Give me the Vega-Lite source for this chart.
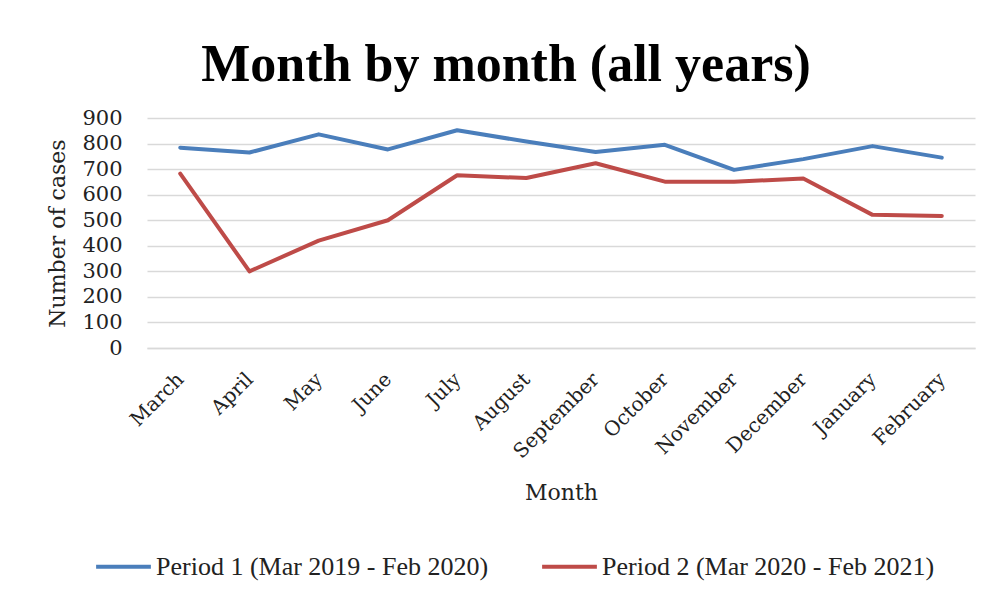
{
  "$schema": "https://vega.github.io/schema/vega-lite/v6.json",
  "autosize": {"type": "none"},
  "width": 828,
  "height": 230,
  "padding": {"left": 147, "top": 118, "right": 19, "bottom": 254},
  "background": "white",
  "title": {
    "text": "Month by month (all years)",
    "font": "Liberation Serif",
    "fontSize": 52,
    "fontWeight": "bold",
    "color": "#000000",
    "anchor": "middle",
    "frame": "group",
    "dx": -55,
    "dy": 63,
    "baseline": "bottom",
    "offset": 26
  },
  "data": {
    "values": [
      {"month": "March", "period": "Period 1 (Mar 2019 - Feb 2020)", "cases": 784},
      {"month": "April", "period": "Period 1 (Mar 2019 - Feb 2020)", "cases": 765},
      {"month": "May", "period": "Period 1 (Mar 2019 - Feb 2020)", "cases": 836},
      {"month": "June", "period": "Period 1 (Mar 2019 - Feb 2020)", "cases": 777},
      {"month": "July", "period": "Period 1 (Mar 2019 - Feb 2020)", "cases": 852},
      {"month": "August", "period": "Period 1 (Mar 2019 - Feb 2020)", "cases": 808},
      {"month": "September", "period": "Period 1 (Mar 2019 - Feb 2020)", "cases": 767},
      {"month": "October", "period": "Period 1 (Mar 2019 - Feb 2020)", "cases": 795},
      {"month": "November", "period": "Period 1 (Mar 2019 - Feb 2020)", "cases": 697},
      {"month": "December", "period": "Period 1 (Mar 2019 - Feb 2020)", "cases": 739},
      {"month": "January", "period": "Period 1 (Mar 2019 - Feb 2020)", "cases": 790},
      {"month": "February", "period": "Period 1 (Mar 2019 - Feb 2020)", "cases": 745},
      {"month": "March", "period": "Period 2 (Mar 2020 - Feb 2021)", "cases": 682},
      {"month": "April", "period": "Period 2 (Mar 2020 - Feb 2021)", "cases": 300},
      {"month": "May", "period": "Period 2 (Mar 2020 - Feb 2021)", "cases": 420},
      {"month": "June", "period": "Period 2 (Mar 2020 - Feb 2021)", "cases": 500},
      {"month": "July", "period": "Period 2 (Mar 2020 - Feb 2021)", "cases": 676},
      {"month": "August", "period": "Period 2 (Mar 2020 - Feb 2021)", "cases": 665},
      {"month": "September", "period": "Period 2 (Mar 2020 - Feb 2021)", "cases": 723},
      {"month": "October", "period": "Period 2 (Mar 2020 - Feb 2021)", "cases": 651},
      {"month": "November", "period": "Period 2 (Mar 2020 - Feb 2021)", "cases": 651},
      {"month": "December", "period": "Period 2 (Mar 2020 - Feb 2021)", "cases": 663},
      {"month": "January", "period": "Period 2 (Mar 2020 - Feb 2021)", "cases": 521},
      {"month": "February", "period": "Period 2 (Mar 2020 - Feb 2021)", "cases": 517}
    ]
  },
  "mark": {"type": "line", "strokeWidth": 4, "strokeCap": "round", "strokeJoin": "round"},
  "encoding": {
    "x": {
      "field": "month",
      "type": "ordinal",
      "sort": ["March", "April", "May", "June", "July", "August", "September", "October", "November", "December", "January", "February"],
      "scale": {"type": "point", "padding": 0.48},
      "axis": {
        "title": "Month",
        "labelAngle": -45,
        "labelAlign": "right",
        "labelBaseline": "middle",
        "labelPadding": 28,
        "ticks": false,
        "domain": true,
        "domainColor": "#d9d9d9",
        "domainWidth": 1.5,
        "grid": false,
        "labelFont": "DejaVu Serif",
        "labelFontSize": 20,
        "labelColor": "#222222",
        "titleFont": "DejaVu Serif",
        "titleFontSize": 22,
        "titleFontWeight": "normal",
        "titleColor": "#222222",
        "titlePadding": 21
      }
    },
    "y": {
      "field": "cases",
      "type": "quantitative",
      "scale": {"domain": [0, 900], "nice": false},
      "axis": {
        "title": "Number of cases",
        "values": [0, 100, 200, 300, 400, 500, 600, 700, 800, 900],
        "ticks": false,
        "domain": false,
        "grid": true,
        "gridColor": "#d9d9d9",
        "gridWidth": 1.5,
        "labelPadding": 25,
        "labelFont": "DejaVu Serif",
        "labelFontSize": 21,
        "labelColor": "#222222",
        "titleFont": "DejaVu Serif",
        "titleFontSize": 22,
        "titleFontWeight": "normal",
        "titleColor": "#222222",
        "titlePadding": 12
      }
    },
    "color": {
      "field": "period",
      "type": "nominal",
      "scale": {
        "domain": ["Period 1 (Mar 2019 - Feb 2020)", "Period 2 (Mar 2020 - Feb 2021)"],
        "range": ["#4a7ebb", "#be4b48"]
      },
      "legend": {
        "title": null,
        "orient": "none",
        "direction": "horizontal",
        "legendX": -53,
        "legendY": 419,
        "symbolType": "stroke",
        "symbolSize": 3000,
        "symbolStrokeWidth": 4,
        "labelFont": "Liberation Serif",
        "labelFontSize": 26,
        "labelColor": "#222222",
        "labelOffset": 3,
        "columnPadding": 45,
        "labelLimit": 400
      }
    }
  },
  "config": {
    "view": {"stroke": null}
  }
}
